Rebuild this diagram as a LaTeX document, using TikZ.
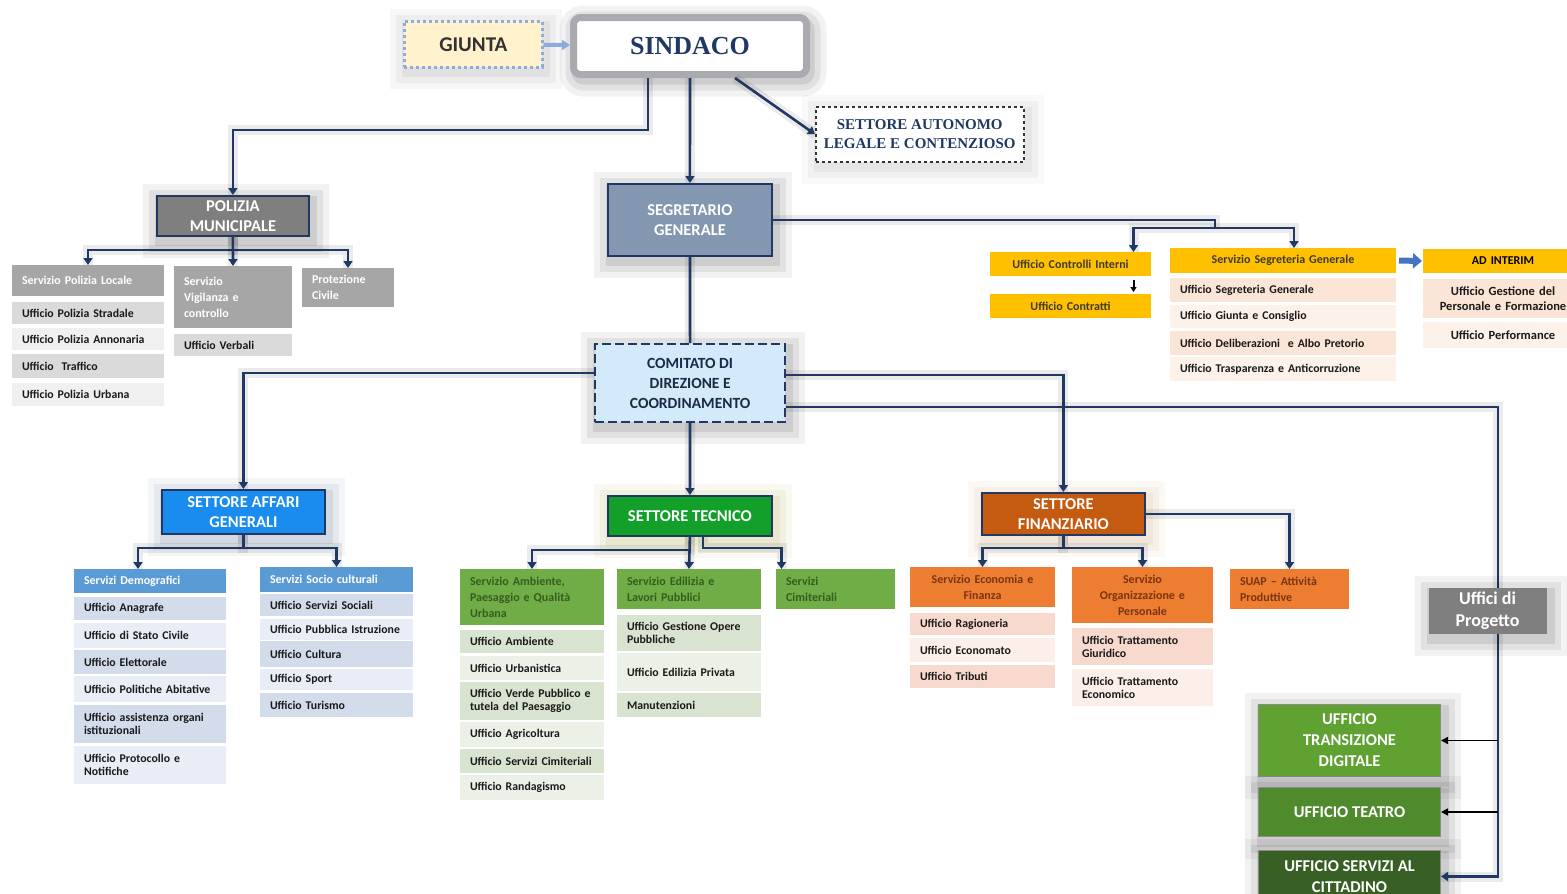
\documentclass[tikz,border=0pt]{standalone}
\usepackage{fontspec}
\setmainfont{Carlito}
\newfontfamily\capsserif{Liberation Serif}
\usetikzlibrary{arrows.meta}
\definecolor{navy}{HTML}{1F3864}
\definecolor{gio}{HTML}{FFF2CC}
\definecolor{giobd}{HTML}{8FAADC}
\definecolor{sinbd}{HTML}{A9ABB0}
\definecolor{gdark}{HTML}{7F7F7F}
\definecolor{gmid}{HTML}{A6A6A6}
\definecolor{grA}{HTML}{DADADA}
\definecolor{grB}{HTML}{F0F0F0}
\definecolor{segr}{HTML}{8497B0}
\definecolor{amber}{HTML}{FFC000}
\definecolor{amtxt}{HTML}{3F3A2A}
\definecolor{peA}{HTML}{FBE5D6}
\definecolor{peB}{HTML}{FDF2EA}
\definecolor{comit}{HTML}{D2EAFA}
\definecolor{comtxt}{HTML}{1B2A45}
\definecolor{affari}{HTML}{1A8CF0}
\definecolor{bhead}{HTML}{5B9BD5}
\definecolor{blA}{HTML}{D3DCEA}
\definecolor{blB}{HTML}{E9EEF6}
\definecolor{tecn}{HTML}{12A02A}
\definecolor{ghead}{HTML}{70AD47}
\definecolor{gnA}{HTML}{D8E3D0}
\definecolor{gnB}{HTML}{ECF1E8}
\definecolor{gtxt}{HTML}{375C20}
\definecolor{finz}{HTML}{C55A11}
\definecolor{ohead}{HTML}{ED7D31}
\definecolor{orA}{HTML}{F8D9CE}
\definecolor{orB}{HTML}{FCEEE9}
\definecolor{otxt}{HTML}{7A3510}
\definecolor{digi}{HTML}{5FA232}
\definecolor{teat}{HTML}{4F8B2C}
\definecolor{citt}{HTML}{385F24}
\definecolor{arrbl}{HTML}{4472C4}
\definecolor{rowtxt}{HTML}{1A1A1A}
\newcommand\rowfont{\bfseries\fontsize{11.8}{13}\selectfont}
\newcommand\hdrfont{\bfseries\fontsize{16.5}{20}\selectfont}
\begin{document}
\begin{tikzpicture}[x=1pt,y=-1pt,
  halo/.style={preaction={draw=#1,solid,draw opacity=.05,line width=34pt,transform canvas={xshift=3pt,yshift=-5pt}},
    preaction={draw=#1,solid,draw opacity=.07,line width=22pt,transform canvas={xshift=3pt,yshift=-5pt}},
    preaction={draw=#1,solid,draw opacity=.09,line width=10pt,transform canvas={xshift=3pt,yshift=-5pt}}},
  halo/.default=black,
  row/.style={anchor=north west,inner xsep=10pt,inner ysep=1pt,outer sep=0pt,align=left,text=rowtxt,font=\rowfont},
  svc/.style={row,font=\bfseries\fontsize{12}{16}\selectfont},
  hdr/.style={anchor=north west,draw=navy,line width=1.8pt,align=center,text=white,font=\hdrfont},
  big/.style={anchor=north west,draw=black!45,line width=1pt,align=center,text=white,
    font=\bfseries\fontsize{16.5}{21}\selectfont,minimum width=182},
  line/.style={draw=navy,line width=2.6pt,preaction={draw=black,arrows=-,draw opacity=.08,line width=10pt}},
  link/.style={line,-{Triangle[length=7pt,width=9pt]}}]
  \useasboundingbox (0,0) rectangle (1567,894);
  \clip (0,0) rectangle (1567,894);

  \node[anchor=north west,draw=giobd,dashed,line width=2.5pt,fill=gio,minimum width=138,minimum height=46,
    text=black!80,font=\bfseries\fontsize{21}{24}\selectfont,halo=black!60] (giunta) at (403,20) {GIUNTA};
  \node[anchor=north west,draw=sinbd,line width=7pt,rounded corners=7pt,fill=white,minimum width=233,
    minimum height=57,text=navy,font=\capsserif\bfseries\fontsize{26}{28}\selectfont,halo] (sindaco) at (570,14) {SINDACO};
  \node[anchor=north west,draw=black!80,dashed,line width=1.5pt,fill=white,minimum width=208,minimum height=55,
    align=center,text=navy,font=\capsserif\bfseries\fontsize{15}{19}\selectfont,halo=black!50] (autonomo) at (815,106)
    {SETTORE AUTONOMO\\LEGALE E CONTENZIOSO};

  \node[hdr,fill=gdark,minimum width=152,minimum height=40,halo] (polizia) at (156,195) {POLIZIA\\MUNICIPALE};
  \node[svc,fill=gmid,text=white,text width=132,minimum height=31] (plh) at (12,265) {Servizio Polizia Locale};
  \foreach \txt/\yy/\hh/\cc [count=\i] in {Ufficio Polizia Stradale/302/22/grA,
      Ufficio Polizia Annonaria/328/22/grB, Ufficio\ \ Traffico/354/24/grA, Ufficio Polizia Urbana/383/23/grB}
    {\node[row,fill=\cc,text width=132,minimum height=\hh] (pl\i) at (12,\yy) {\txt};}
  \node[svc,fill=gmid,text=white,text width=98,minimum height=62] (vgh) at (174,266) {Servizio\\Vigilanza e\\controllo};
  \node[row,fill=grA,text width=98,minimum height=22] (vg1) at (174,334) {Ufficio Verbali};
  \node[svc,fill=gmid,text=white,text width=72,minimum height=39] (prot) at (302,268) {Protezione\\Civile};

  \node[hdr,fill=segr,minimum width=164,minimum height=72,halo] (segretario) at (607,183) {SEGRETARIO\\GENERALE};
  \node[svc,fill=amber,text=amtxt,align=center,text width=141,minimum height=24] (ctrl) at (990,252) {Ufficio Controlli Interni};
  \node[svc,fill=amber,text=amtxt,align=center,text width=141,minimum height=24] (contr) at (990,294) {Ufficio Contratti};
  \node[svc,fill=amber,text=amtxt,align=center,text width=206,minimum height=25] (segh) at (1170,248) {Servizio Segreteria Generale};
  \foreach \txt/\yy/\hh/\cc [count=\i] in {Ufficio Segreteria Generale/278/24/peA,
      Ufficio Giunta e Consiglio/305/23/peB, Ufficio Deliberazioni\ \ e Albo Pretorio/331/24/peA,
      Ufficio Trasparenza e Anticorruzione/357/24/peB}
    {\node[row,fill=\cc,text width=206,minimum height=\hh] (sg\i) at (1170,\yy) {\txt};}
  \node[svc,fill=amber,text=black,align=center,text width=140,minimum height=24] (adint) at (1423,249) {AD INTERIM};
  \node[svc,fill=peA,text=rowtxt,align=center,text width=140,minimum height=39,
    font=\bfseries\fontsize{12.5}{15}\selectfont] (ad1) at (1423,279) {Ufficio Gestione del\\Personale e Formazione};
  \node[svc,fill=peB,text=rowtxt,align=center,text width=140,minimum height=26,
    font=\bfseries\fontsize{12.5}{15}\selectfont] (ad2) at (1423,322) {Ufficio Performance};

  \node[hdr,fill=comit,text=comtxt,dash pattern=on 9pt off 4pt,line width=2.2pt,minimum width=190,minimum height=78,
    font=\bfseries\fontsize{15.5}{20}\selectfont,halo] (comitato) at (594,343) {COMITATO DI\\DIREZIONE E\\COORDINAMENTO};

  \node[hdr,fill=affari,minimum width=163,minimum height=44,halo=navy] (affari) at (161,489) {SETTORE AFFARI\\GENERALI};
  \node[svc,fill=bhead,text=white,text width=132,minimum height=24] (dmh) at (74,569) {Servizi Demografici};
  \foreach \txt/\yy/\hh/\cc [count=\i] in {Ufficio Anagrafe/597/23/blA, Ufficio di Stato Civile/623/25/blB,
      Ufficio Elettorale/650/24/blA, Ufficio Politiche Abitative/676/26/blB,
      {Ufficio assistenza organi\\istituzionali}/705/38/blA, {Ufficio Protocollo e\\Notifiche}/746/38/blB}
    {\node[row,fill=\cc,text width=132,minimum height=\hh] (dm\i) at (74,\yy) {\txt};}
  \node[svc,fill=bhead,text=white,text width=133,minimum height=25] (soh) at (260,567) {Servizi Socio culturali};
  \foreach \txt/\yy/\hh/\cc [count=\i] in {Ufficio Servizi Sociali/594/22/blA, Ufficio Pubblica Istruzione/619/21/blB,
      Ufficio Cultura/641/26/blA, Ufficio Sport/669/21/blB, Ufficio Turismo/693/24/blA}
    {\node[row,fill=\cc,text width=133,minimum height=\hh] (so\i) at (260,\yy) {\txt};}

  \node[hdr,fill=tecn,minimum width=164,minimum height=40,halo=olive] (tecnico) at (607,495) {SETTORE TECNICO};
  \node[svc,fill=ghead,text=gtxt,text width=124,minimum height=56] (amh) at (460,569) {Servizio Ambiente,\\Paesaggio e Qualità\\Urbana};
  \foreach \txt/\yy/\hh/\cc [count=\i] in {Ufficio Ambiente/630/23/gnA, Ufficio Urbanistica/656/24/gnB,
      {Ufficio Verde Pubblico e\\tutela del Paesaggio}/682/38/gnA, Ufficio Agricoltura/722/25/gnB,
      Ufficio Servizi Cimiteriali/749/24/gnA, Ufficio Randagismo/775/25/gnB}
    {\node[row,fill=\cc,text width=124,minimum height=\hh] (am\i) at (460,\yy) {\txt};}
  \node[svc,fill=ghead,text=gtxt,text width=124,minimum height=40] (edh) at (617,569) {Servizio Edilizia e\\Lavori Pubblici};
  \foreach \txt/\yy/\hh/\cc [count=\i] in {{Ufficio Gestione Opere\\Pubbliche}/615/36/gnA,
      Ufficio Edilizia Privata/653/38/gnB, Manutenzioni/693/24/gnA}
    {\node[row,fill=\cc,text width=124,minimum height=\hh] (ed\i) at (617,\yy) {\txt};}
  \node[svc,fill=ghead,text=gtxt,text width=99,minimum height=40] (cmh) at (776,569) {Servizi\\Cimiteriali};

  \node[hdr,fill=finz,minimum width=163,minimum height=42,halo=brown] (finanz) at (981,492) {SETTORE\\FINANZIARIO};
  \node[svc,fill=ohead,text=otxt,align=center,text width=125,minimum height=40] (ech) at (910,567) {Servizio Economia e\\Finanza};
  \foreach \txt/\yy/\hh/\cc [count=\i] in {Ufficio Ragioneria/613/22/orA, Ufficio Economato/638/24/orB,
      Ufficio Tributi/665/23/orA}
    {\node[row,fill=\cc,text width=125,minimum height=\hh] (ec\i) at (910,\yy) {\txt};}
  \node[svc,fill=ohead,text=otxt,align=center,text width=121,minimum height=56] (orh) at (1072,567) {Servizio\\Organizzazione e\\Personale};
  \foreach \txt/\yy/\hh/\cc [count=\i] in {{Ufficio Trattamento\\Giuridico}/628/37/orA,
      {Ufficio Trattamento\\Economico}/669/37/orB}
    {\node[row,fill=\cc,text width=121,minimum height=\hh] (or\i) at (1072,\yy) {\txt};}
  \node[svc,fill=ohead,text=otxt,text width=99,minimum height=40] (suap) at (1230,569) {SUAP – Attività\\Produttive};

  \node[big,fill=digi,minimum height=72,halo] (digit) at (1258,704) {UFFICIO\\TRANSIZIONE\\DIGITALE};
  \node[big,fill=teat,minimum height=49,halo] (teatro) at (1258,787) {UFFICIO TEATRO};
  \node[big,fill=citt,minimum height=52,halo] (citt) at (1258,850) {UFFICIO SERVIZI AL\\CITTADINO};

  \draw[-{Triangle[length=8pt,width=10pt]},draw=giobd,line width=4pt] (giunta) -- (sindaco);
  \draw[link] ([xshift=-42pt]sindaco.south) -- ++(0,52) -| (polizia.north);
  \draw[link] (sindaco) -- (segretario);
  \draw[link] ([xshift=45pt]sindaco.south) -- (autonomo.west);
  \draw[link] (polizia.south) -- ++(0,13) -| (plh.north);
  \draw[link] (polizia.south) -- ++(0,13) -| (prot.north);
  \draw[link] (polizia.south) -- (vgh.north);

  \coordinate (sgfork) at (1215,228);
  \draw[line] (segretario.east) -| (sgfork);
  \draw[link] (sgfork) -| ([xshift=63pt]ctrl.north);
  \draw[link] (sgfork) -| ([xshift=11pt]segh.north);
  \draw[-{Triangle[length=5pt,width=6pt]},line width=2pt,shorten <=4pt,shorten >=2pt]
    ([xshift=63pt]ctrl.south) -- ([xshift=63pt]contr.north);
  \draw[-{Triangle[length=9pt,width=15pt]},draw=arrbl,line width=6pt,shorten <=3pt,shorten >=1pt] (segh.east) -- (adint.west);
  \draw[line] (segretario) -- (comitato);

  \draw[link] ([yshift=10pt]comitato.west) -| (affari.north);
  \draw[link] (comitato) -- (tecnico);
  \draw[link] ([yshift=8pt]comitato.east) -| (finanz.north);
  \draw[link] ([yshift=-24pt]comitato.east) -| ([xshift=57pt]citt.east) -- (citt.east);
  \draw[-{Triangle[length=7pt,width=7pt]},line width=1.6pt] ([xshift=57pt]digit.east) -- (digit.east);
  \draw[-{Triangle[length=7pt,width=7pt]},line width=1.6pt] ([xshift=57pt]teatro.east) -- (teatro.east);

  \draw[link] (affari.south) -- ++(0,13) -| ([xshift=-12pt]dmh.north);
  \draw[link] (affari.south) -- ++(0,13) -| (soh.north);
  \draw[link] (tecnico.south) -- ++(0,13) -| (amh.north);
  \draw[link] (tecnico.south) -- (edh.north);
  \draw[link] ([xshift=13pt]tecnico.south) -- ++(0,11) -| ([xshift=-54pt]cmh.north);
  \draw[link] (finanz.south) -- ++(0,12) -| (ech.north);
  \draw[link] (finanz.south) -- ++(0,12) -| (orh.north);
  \draw[link] (finanz.east) -| (suap.north);

  \node[big,fill=gdark,draw=none,minimum width=118,minimum height=46,font=\bfseries\fontsize{18}{22}\selectfont,halo]
    (progetto) at (1428,587) {Uffici di\\Progetto};
\end{tikzpicture}
\end{document}
